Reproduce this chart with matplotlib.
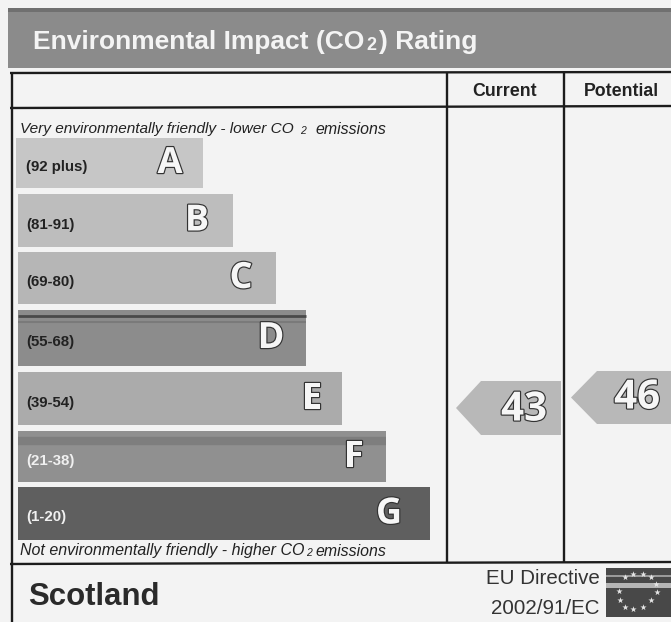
import matplotlib
matplotlib.use("Agg")
import matplotlib.pyplot as plt
import matplotlib.patheffects as pe
from matplotlib.patches import Polygon, Rectangle

band_ranges = ["(92 plus)", "(81-91)", "(69-80)", "(55-68)", "(39-54)", "(21-38)", "(1-20)"]
band_letters = ["A", "B", "C", "D", "E", "F", "G"]
band_right = [203, 233, 276, 306, 342, 386, 430]
band_top = [138, 194, 252, 310, 372, 431, 487]
band_bottom = [188, 247, 304, 366, 425, 482, 540]
band_grey = ["#c6c6c6", "#bdbdbd", "#b6b6b6", "#8c8c8c", "#ababab", "#909090", "#5f5f5f"]
range_colour = ["#222222", "#222222", "#222222", "#222222", "#222222", "#f0f0f0", "#f0f0f0"]
letter_x = [170, 197, 241, 271, 312, 354, 389]
columns = ["Current", "Potential"]
scores = [43, 46]

plt.rcParams["font.family"] = ["Liberation Sans", "DejaVu Sans"]
fig = plt.figure(figsize=(6.71, 6.22), dpi=100, facecolor="#f3f3f3")
ax = fig.add_axes([0, 0, 1, 1])
ax.set_xlim(0, 671)
ax.set_ylim(622, 0)
ax.axis("off")

# title band
ax.add_patch(Rectangle((8, 8), 663, 60, fc="#8b8b8b", ec="none"))
ax.add_patch(Rectangle((8, 8), 663, 4, fc="#707070", ec="none"))
ax.text(33, 42, "Environmental Impact (CO", color="#f4f4f4", fontsize=19, fontweight="bold", va="center")
ax.text(366, 45, "2", color="#f4f4f4", fontsize=13, fontweight="bold", va="center")
ax.text(379, 42, ") Rating", color="#f4f4f4", fontsize=19, fontweight="bold", va="center")

# table frame
line = dict(color="#1c1c1c", lw=1.7, solid_capstyle="butt")
ax.plot([10, 671], [73, 72], **line)
ax.plot([10, 671], [108, 106], **line)
ax.plot([10, 671], [564, 562], **line)
ax.plot([12, 12], [72, 622], **line)
ax.plot([447, 447], [72, 563], **line)
ax.plot([564, 564], [72, 563], **line)
ax.text(505, 92, columns[0], fontsize=12.8, fontweight="bold", ha="center", va="center", color="#222222")
ax.text(621, 91, columns[1], fontsize=12.8, fontweight="bold", ha="center", va="center", color="#222222")

# captions
cap = dict(style="italic", va="center", color="#222222")
sub = dict(fontsize=7.5, style="italic", va="center", color="#222222")
ax.text(20, 129, "Very environmentally friendly - lower CO", fontsize=11.1, **cap)
ax.text(300, 131, "2", **sub)
ax.text(315, 129, "emissions", fontsize=11.4, **cap)
ax.text(20, 551, "Not environmentally friendly - higher CO", fontsize=11.5, **cap)
ax.text(306, 553, "2", **sub)
ax.text(315, 551, "emissions", fontsize=11.4, **cap)

# rating bands
outline = [pe.Stroke(linewidth=1.7, foreground="#333333"), pe.Normal()]
for i, rng in enumerate(band_ranges):
    left = 16 if i == 0 else 18
    yc = (band_top[i] + band_bottom[i]) / 2
    ax.barh(yc, band_right[i] - left, left=left,
            height=band_bottom[i] - band_top[i], color=band_grey[i], edgecolor="none")
    ax.text(26, yc + 4, rng, fontsize=10.8, fontweight="bold", va="center", color=range_colour[i])
    ax.text(letter_x[i], yc + 1, band_letters[i], fontsize=26, fontweight="bold", family="Open Sans",
            ha="center", va="center", color="#f6f6f6", path_effects=outline)
ax.plot([18, 306], [316, 316], color="#4a4a4a", lw=2, solid_capstyle="butt")
ax.plot([18, 306], [322, 322], color="#7a7a7a", lw=1.5, solid_capstyle="butt")
ax.plot([18, 386], [441, 441], color="#707070", lw=6, alpha=.55, solid_capstyle="butt")

# score arrows
def arrow(tip, neck, right, top, bottom, fill):
    mid = (top + bottom) / 2
    ax.add_patch(Polygon([(tip, mid), (neck, top), (right, top), (right, bottom), (neck, bottom)],
                         closed=True, fc=fill, ec="none"))

arrow(456, 481, 561, 381, 435, "#b8b8b8")
arrow(571, 597, 671, 371, 424, "#b8b8b8")
ax.text(524, 410, str(scores[0]), fontsize=29, fontweight="bold", family="Open Sans", ha="center", va="center",
        color="#f6f6f6", path_effects=outline)
ax.text(637, 398, str(scores[1]), fontsize=29, fontweight="bold", family="Open Sans", ha="center", va="center",
        color="#f6f6f6", path_effects=outline)

# footer
ax.text(28, 597, "Scotland", fontsize=22.4, fontweight="bold", va="center", color="#2a2a2a")
ax.text(600, 579, "EU Directive", fontsize=14.8, ha="right", va="center", color="#333333")
ax.text(600, 608, "2002/91/EC", fontsize=14.8, ha="right", va="center", color="#333333")

# flag
ax.add_patch(Rectangle((606, 568), 65, 49, fc="#484848", ec="none"))
ax.add_patch(Rectangle((606, 583), 65, 5, fc="#b5b5b5", ec="none"))
ax.add_patch(Rectangle((606, 575), 65, 2, fc="#9a9a9a", ec="none"))
stars_x = [625, 633, 643, 651, 656, 657, 651, 643, 633, 625, 620, 619]
stars_y = [577, 574, 574, 577, 584, 592, 600, 607, 609, 607, 600, 591]
ax.scatter(stars_x, stars_y, marker="*", s=22, color="#e6e6e6", linewidths=0)

fig.savefig("out.png", dpi=100, facecolor=fig.get_facecolor())
